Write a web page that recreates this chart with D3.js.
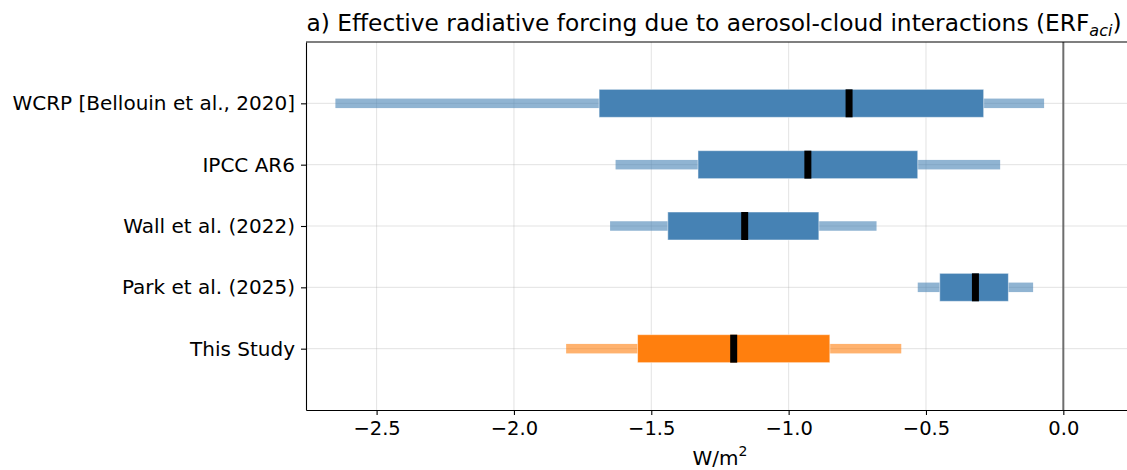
<!DOCTYPE html>
<html>
<head>
<meta charset="utf-8">
<script src="https://cdn.jsdelivr.net/npm/d3@7"></script>
<style>
  body { margin: 0; background: #fff; }
  text { font-family: "DejaVu Sans", sans-serif; fill: #000; }
</style>
</head>
<body>
<svg></svg>
<script>
// Studies, top to bottom
const studies = ["WCRP [Bellouin et al., 2020]", "IPCC AR6", "Wall et al. (2022)", "Park et al. (2025)", "This Study"];
// outer range (whiskers), inner range (box), central estimate
const lowOuter  = [-2.65, -1.63, -1.65, -0.53, -1.81];
const lowInner  = [-1.69, -1.33, -1.44, -0.45, -1.55];
const central   = [-0.78, -0.93, -1.16, -0.32, -1.20];
const highInner = [-0.29, -0.53, -0.89, -0.20, -0.85];
const highOuter = [-0.07, -0.23, -0.68, -0.11, -0.59];
const barColors = ["#4682b4", "#4682b4", "#4682b4", "#4682b4", "#ff7f0e"];
const xTicks = [-2.5, -2.0, -1.5, -1.0, -0.5, 0.0];

const data = studies.map((s, i) => ({
  name: s, i: i,
  lo: lowOuter[i], li: lowInner[i], c: central[i], hi: highInner[i], ho: highOuter[i],
  color: barColors[i]
}));

const W = 1127, H = 470;
const margin = {top: 42, left: 306, bottom: 60};
const svg = d3.select("svg").attr("width", W).attr("height", H);

const x = d3.scaleLinear().domain([-2.757, 0.25]).range([margin.left, 1132]);
const y = d3.scaleLinear().domain([-1, 5]).range([margin.top, H - margin.bottom]);

// Grid
svg.append("g").selectAll("line").data(xTicks).enter().append("line")
    .attr("x1", d => x(d)).attr("x2", d => x(d))
    .attr("y1", y(-1)).attr("y2", y(5))
    .attr("stroke", "#b0b0b0").attr("stroke-opacity", 0.35).attr("stroke-width", 1);
svg.append("g").selectAll("line").data(data).enter().append("line")
    .attr("x1", x.range()[0]).attr("x2", x.range()[1])
    .attr("y1", d => y(d.i)).attr("y2", d => y(d.i))
    .attr("stroke", "#b0b0b0").attr("stroke-opacity", 0.35).attr("stroke-width", 1);

// Zero line
svg.append("line")
    .attr("x1", x(0)).attr("x2", x(0))
    .attr("y1", y(-1)).attr("y2", y(5))
    .attr("stroke", "#6e6e6e").attr("stroke-width", 2);

// Whiskers (outer range)
svg.append("g").selectAll("rect").data(data).enter().append("rect")
    .attr("x", d => x(d.lo))
    .attr("width", d => x(d.ho) - x(d.lo))
    .attr("y", d => y(d.i) - 4.75)
    .attr("height", 9.5)
    .attr("fill", d => d.color)
    .attr("fill-opacity", 0.6);

// Boxes (inner range)
svg.append("g").selectAll("rect").data(data).enter().append("rect")
    .attr("x", d => x(d.li))
    .attr("width", d => x(d.hi) - x(d.li))
    .attr("y", d => y(d.i) - 14)
    .attr("height", 28)
    .attr("fill", d => d.color)
    .attr("stroke", "#ffffff").attr("stroke-opacity", 0.5).attr("stroke-width", 1);

// Central estimates
svg.append("g").selectAll("rect").data(data).enter().append("rect")
    .attr("x", d => x(d.c) - 3.5)
    .attr("width", 7)
    .attr("y", d => y(d.i) - 14)
    .attr("height", 28)
    .attr("fill", "#000");

// Axes
const xAxis = svg.append("g")
    .attr("transform", `translate(0,${y(5)})`)
    .call(d3.axisBottom(x).tickValues(xTicks).tickSizeInner(5).tickSizeOuter(0).tickPadding(6)
      .tickFormat(d => d3.format(".1f")(d).replace("-", "\u2212")));
xAxis.selectAll("text").style("font-size", "19.5px");

const yAxis = svg.append("g")
    .attr("transform", `translate(${margin.left},0)`)
    .call(d3.axisLeft(y).tickValues(d3.range(studies.length)).tickSizeInner(5).tickSizeOuter(0).tickPadding(6)
      .tickFormat(i => studies[i]));
yAxis.selectAll("text").style("font-size", "20px");

[xAxis, yAxis].forEach(a => {
  a.select(".domain").attr("stroke", "#000").attr("stroke-width", 1.1);
  a.selectAll(".tick line").attr("stroke", "#000").attr("stroke-width", 1.1);
});

// Top spine
svg.append("line")
    .attr("x1", x.range()[0]).attr("x2", x.range()[1])
    .attr("y1", y(-1)).attr("y2", y(-1))
    .attr("stroke", "#000").attr("stroke-width", 1.1);

// Title
const title = svg.append("text")
    .attr("x", 714).attr("y", 31)
    .attr("text-anchor", "middle")
    .style("font-size", "23.3px");
title.append("tspan").text("a) Effective radiative forcing due to aerosol-cloud interactions (ERF");
title.append("tspan").text("aci").style("font-style", "italic").style("font-size", "16px").attr("dy", 5);
title.append("tspan").text(")").attr("dy", -5);

// X label
const xl = svg.append("text")
    .attr("x", 720).attr("y", 465)
    .attr("text-anchor", "middle")
    .style("font-size", "20px");
xl.append("tspan").text("W/m");
xl.append("tspan").text("2").style("font-size", "14px").attr("dy", -9);
</script>
</body>
</html>
